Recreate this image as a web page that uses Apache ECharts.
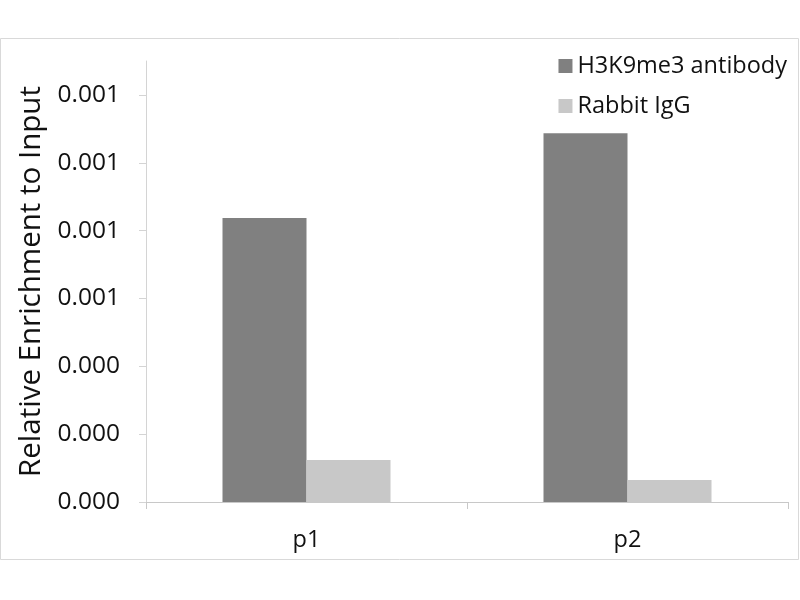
<!DOCTYPE html>
<html>
<head>
<meta charset="utf-8">
<script src="https://cdn.jsdelivr.net/npm/echarts@6/dist/echarts.min.js"></script>
<style>html,body{margin:0;padding:0;background:#fff}#c{width:800px;height:600px}</style>
</head>
<body>
<div id="c"></div>
<script>
const categories = ['p1', 'p2'];
const seriesNames = ['H3K9me3 antibody', 'Rabbit IgG'];
const h3k9me3Values = [0.000837, 0.001087];
const rabbitIgGValues = [0.000124, 0.000065];
const yTickValues = [0, 0.0002, 0.0004, 0.0006, 0.0008, 0.0010, 0.0012];
const yMax = 0.0013;
const yTitle = 'Relative Enrichment to Input';

const FONT = 'Open Sans';
const chart = echarts.init(document.getElementById('c'));
chart.setOption({
  animation: false,
  backgroundColor: '#fff',
  textStyle: { fontFamily: FONT },
  graphic: [{
    type: 'rect',
    shape: { x: 0.5, y: 38.5, width: 798, height: 521 },
    style: { fill: 'none', stroke: '#d9d9d9', lineWidth: 1 },
    silent: true
  }],
  grid: { left: 146, right: 12, top: 61, bottom: 98 },
  legend: {
    orient: 'vertical',
    right: 8,
    top: 49,
    itemWidth: 14,
    itemHeight: 14,
    itemGap: 16,
    icon: 'rect',
    textStyle: { fontFamily: FONT, fontSize: 23.5, color: '#111' },
    data: seriesNames
  },
  xAxis: {
    type: 'category',
    data: categories,
    axisLine: { lineStyle: { color: '#c8c8c8', width: 1 } },
    axisTick: { show: true, length: 7, lineStyle: { color: '#c8c8c8' } },
    axisLabel: { fontFamily: FONT, fontSize: 23.5, color: '#111', margin: 26 }
  },
  yAxis: {
    type: 'value',
    min: 0,
    max: yMax,
    interval: 0.0001,
    name: yTitle,
    nameLocation: 'middle',
    nameGap: 93,
    nameTextStyle: { fontFamily: FONT, fontSize: 29.5, color: '#111' },
    splitLine: { show: false },
    axisLine: { show: true, lineStyle: { color: '#d4d4d4', width: 1 } },
    axisTick: { show: true, inside: false, length: 7, customValues: yTickValues, lineStyle: { color: '#d4d4d4' } },
    axisLabel: {
      fontFamily: FONT, fontSize: 24.5, color: '#111', margin: 26,
      customValues: yTickValues,
      formatter: v => v.toFixed(3)
    }
  },
  series: [
    {
      name: seriesNames[0], type: 'bar', data: h3k9me3Values,
      barWidth: 84, barGap: '0%',
      itemStyle: { color: '#808080' }
    },
    {
      name: seriesNames[1], type: 'bar', data: rabbitIgGValues,
      barWidth: 84,
      itemStyle: { color: '#c8c8c8' }
    }
  ]
});
</script>
</body>
</html>
